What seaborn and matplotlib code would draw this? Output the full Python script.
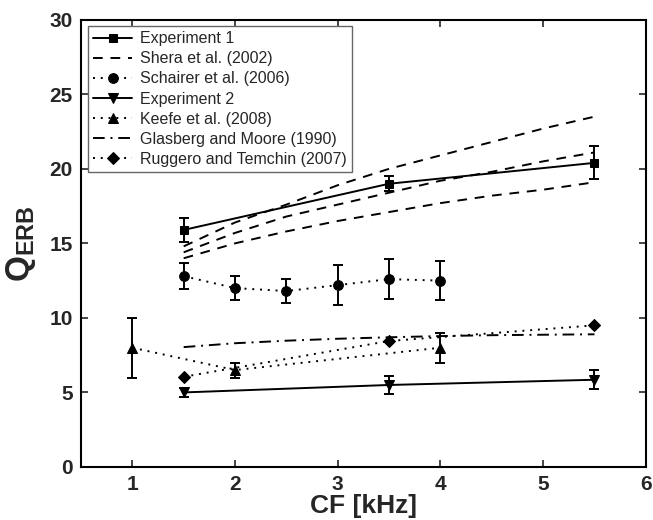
import matplotlib
matplotlib.use('Agg')
import matplotlib.pyplot as plt
import seaborn as sns
import numpy as np
import pandas as pd

sns.set_style('ticks')
plt.rcParams['font.family'] = ['Liberation Sans', 'DejaVu Sans']
plt.rcParams['mathtext.fontset'] = 'custom'
plt.rcParams['mathtext.rm'] = 'Liberation Sans'
plt.rcParams['mathtext.bf'] = 'Liberation Sans:bold'

# data
exp1_cf = [1.5, 3.5, 5.5]
exp1_q = [15.9, 19.0, 20.4]
exp1_err = [0.8, 0.5, 1.1]

shera_cf = [1.5, 2.0, 2.5, 3.0, 3.5, 4.0, 4.5, 5.0, 5.5]
shera_hi = [14.8, 16.4, 17.6, 18.9, 20.0, 20.9, 21.8, 22.7, 23.5]
shera_mid = [14.4, 15.7, 16.8, 17.6, 18.4, 19.2, 19.8, 20.5, 21.1]
shera_lo = [14.0, 15.0, 15.8, 16.5, 17.1, 17.7, 18.2, 18.6, 19.1]

schairer_cf = [1.5, 2.0, 2.5, 3.0, 3.5, 4.0]
schairer_q = [12.8, 12.0, 11.8, 12.2, 12.6, 12.5]
schairer_err = [0.85, 0.8, 0.8, 1.35, 1.35, 1.3]

exp2_cf = [1.5, 3.5, 5.5]
exp2_q = [5.0, 5.5, 5.85]
exp2_err = [0.3, 0.6, 0.65]

keefe_cf = [1.0, 2.0, 4.0]
keefe_q = [8.0, 6.5, 8.0]
keefe_err = [2.0, 0.5, 1.0]

gm_cf = [1.5, 2.0, 2.5, 3.0, 3.5, 4.0, 4.5, 5.0, 5.5]
gm_q = [8.04, 8.3, 8.47, 8.6, 8.7, 8.78, 8.84, 8.87, 8.9]

rt_cf = [1.5, 3.5, 5.5]
rt_q = [6.05, 8.45, 9.5]

fig = plt.figure(figsize=(6.53, 5.2), dpi=100)
ax = fig.add_axes([0.124, 0.102, 0.865, 0.86])

lw = 1.4
ax.errorbar(exp1_cf, exp1_q, yerr=exp1_err, fmt='none', ecolor='k', elinewidth=lw, capsize=3.5, capthick=lw)
ax.errorbar(schairer_cf, schairer_q, yerr=schairer_err, fmt='none', ecolor='k', elinewidth=lw, capsize=3.5, capthick=lw)
ax.errorbar(exp2_cf, exp2_q, yerr=exp2_err, fmt='none', ecolor='k', elinewidth=lw, capsize=3.5, capthick=lw)
ax.errorbar(keefe_cf, keefe_q, yerr=keefe_err, fmt='none', ecolor='k', elinewidth=lw, capsize=3.5, capthick=lw)

sns.lineplot(x=exp1_cf, y=exp1_q, ax=ax, color='k', lw=lw, marker='s', ms=6, mec='k', label='Experiment 1')
sns.lineplot(x=shera_cf, y=shera_hi, ax=ax, color='k', lw=lw, ls=(0, (5, 4)), label='Shera et al. (2002)')
sns.lineplot(x=shera_cf, y=shera_mid, ax=ax, color='k', lw=lw, ls=(0, (5, 4)))
sns.lineplot(x=shera_cf, y=shera_lo, ax=ax, color='k', lw=lw, ls=(0, (5, 4)))
sns.lineplot(x=schairer_cf, y=schairer_q, ax=ax, color='k', lw=lw, ls=(0, (1, 3)), marker='o', ms=7, mec='k', label='Schairer et al. (2006)')
sns.lineplot(x=exp2_cf, y=exp2_q, ax=ax, color='k', lw=lw, marker='v', ms=7, mec='k', label='Experiment 2')
sns.lineplot(x=keefe_cf, y=keefe_q, ax=ax, color='k', lw=lw, ls=(0, (1, 3)), marker='^', ms=7, mec='k', label='Keefe et al. (2008)')
sns.lineplot(x=gm_cf, y=gm_q, ax=ax, color='k', lw=lw, ls=(0, (6, 3, 1, 3)), label='Glasberg and Moore (1990)')
sns.lineplot(x=rt_cf, y=rt_q, ax=ax, color='k', lw=lw, ls=(0, (1, 3)), marker='D', ms=6, mec='k', label='Ruggero and Temchin (2007)')

ax.set_xlim(0.5, 6)
ax.set_ylim(0, 30)
ax.set_xticks([1, 2, 3, 4, 5, 6])
ax.set_yticks([0, 5, 10, 15, 20, 25, 30])
ax.tick_params(direction='in', top=True, right=True, length=5, width=1.2, labelsize=15, pad=6)
for lab in ax.get_xticklabels() + ax.get_yticklabels():
    lab.set_fontweight('bold')
for sp in ax.spines.values():
    sp.set_linewidth(1.5)
    sp.set_color('k')

ax.set_xlabel('CF [kHz]', fontsize=19, fontweight='bold', labelpad=0)
ax.set_ylabel(r'$\mathbf{Q_{ERB}}$', fontsize=24, labelpad=8)

leg = ax.legend(loc='upper left', bbox_to_anchor=(0.012, 0.985), fontsize=11.5, frameon=True, fancybox=False,
                edgecolor='0.4', framealpha=1, handlelength=2.5, handletextpad=0.5, labelspacing=0.32,
                borderpad=0.3, borderaxespad=0)
leg.get_frame().set_linewidth(1.0)

fig.savefig('out.png', dpi=100)
